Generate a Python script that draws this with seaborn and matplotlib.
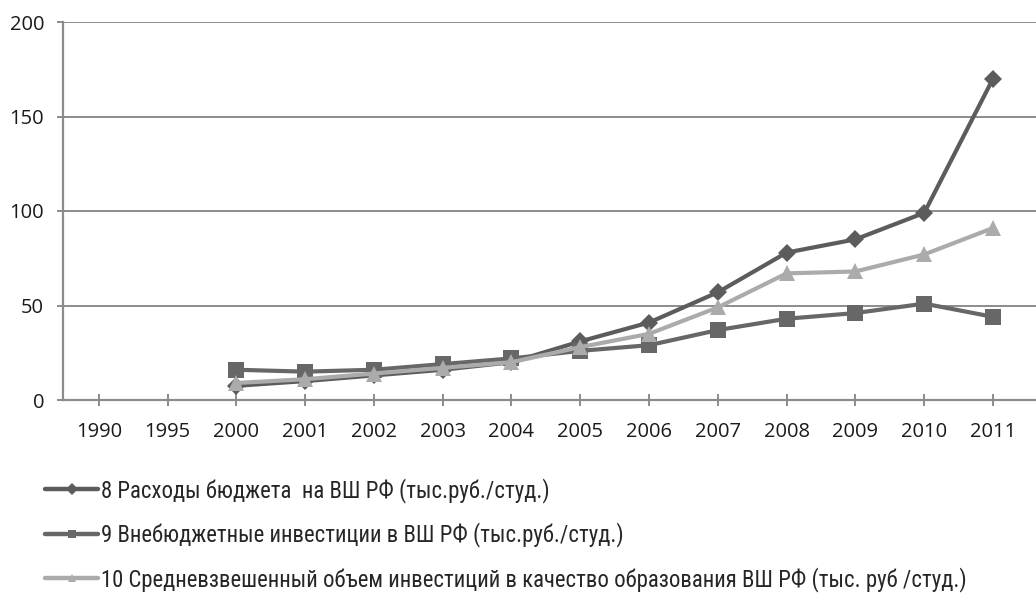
import matplotlib
matplotlib.use("Agg")
import matplotlib.pyplot as plt
from matplotlib import font_manager
import seaborn as sns
import pandas as pd
import numpy as np

years = ["1990", "1995"] + [str(y) for y in range(2000, 2012)]

budget = [np.nan, np.nan, 7.5, 10, 13, 16, 20, 31, 41, 57, 78, 85, 99, 170]
extra = [np.nan, np.nan, 16, 15, 16, 19, 22, 26, 29, 37, 43, 46, 51, 44]
weighted = [np.nan, np.nan, 9, 11, 14, 17, 20, 28, 35, 49, 67, 68, 77, 91]

labels = [
    "8 Расходы бюджета  на ВШ РФ (тыс.руб./студ.)",
    "9 Внебюджетные инвестиции в ВШ РФ (тыс.руб./студ.)",
    "10 Средневзвешенный объем инвестиций в качество образования ВШ РФ (тыс. руб /студ.)",
]
yticks = [0, 50, 100, 150, 200]

sns.set_style("white")
plt.rcParams['font.family'] = ['Open Sans', 'DejaVu Sans']

installed = {f.name for f in font_manager.fontManager.ttflist}
legend_family = "Open Sans"
for cand in ["Liberation Sans Narrow", "Roboto Condensed", "Open Sans Condensed",
             "DejaVu Sans Condensed", "Roboto"]:
    if cand in installed:
        legend_family = cand
        break

pos = list(range(len(years)))
df = pd.concat([
    pd.DataFrame({"pos": pos, "value": budget, "series": labels[0]}),
    pd.DataFrame({"pos": pos, "value": extra, "series": labels[1]}),
    pd.DataFrame({"pos": pos, "value": weighted, "series": labels[2]}),
])

W, H = 1036, 594
fig = plt.figure(figsize=(W / 100, H / 100), dpi=100)
ax = fig.add_axes([63 / W, 1 - 400 / H, (1036 - 63) / W, (400 - 22) / H])

palette = {labels[0]: "#5c5c5c", labels[1]: "#676767", labels[2]: "#ababab"}
markers = {labels[0]: "D", labels[1]: "s", labels[2]: "^"}
sizes = {labels[0]: 9, labels[1]: 11, labels[2]: 12}

for lab in labels:
    sub = df[df["series"] == lab]
    sns.lineplot(data=sub, x="pos", y="value", ax=ax, color=palette[lab],
                 marker=markers[lab], markersize=sizes[lab], linewidth=3.0,
                 markeredgewidth=0, label=lab, legend=False)

ax.set_xlim(-0.52, len(years) - 1 + 0.625)
ax.set_ylim(0, 200)
ax.set_yticks(yticks)
ax.set_xticks(pos)
ax.set_xticklabels(years)
ax.set_xlabel("")
ax.set_ylabel("")
ax.yaxis.grid(True, color="#8c8c8c", linewidth=1.4)
ax.set_axisbelow(True)
for s in ["top", "right"]:
    ax.spines[s].set_visible(False)
for s in ["left", "bottom"]:
    ax.spines[s].set_color("#8c8c8c")
    ax.spines[s].set_linewidth(1.6)
ax.tick_params(axis="x", direction="inout", length=8, width=1.4, color="#8c8c8c",
               labelsize=14.5, pad=11.5, labelcolor="#1a1a1a", bottom=True)
ax.tick_params(axis="y", direction="out", length=4.5, width=1.4, color="#8c8c8c",
               labelsize=14.5, pad=9, labelcolor="#1a1a1a", left=True)

handles, labs = ax.get_legend_handles_labels()


def make_legend(fs):
    fs_px = fs * 100 / 72
    return fig.legend(handles, labs, loc="upper left",
                      bbox_to_anchor=(45 / W, 1 - 478 / H),
                      frameon=False, ncol=1, labelspacing=(46 - fs_px * 1.17) / fs_px,
                      handlelength=53 / fs_px, handletextpad=3 / fs_px,
                      borderpad=0, borderaxespad=0,
                      prop={"family": [legend_family, "DejaVu Sans"], "size": fs})


fs = 13.0
leg = make_legend(fs)
fig.canvas.draw()
r = fig.canvas.get_renderer()
w3 = leg.get_texts()[2].get_window_extent(r).width
leg.remove()
fs = fs * 862 / w3
leg = make_legend(fs)
for h in leg.legend_handles:
    h.set_markersize(6)
    h.set_linewidth(3.2)

fig.savefig("out.png", dpi=100)
